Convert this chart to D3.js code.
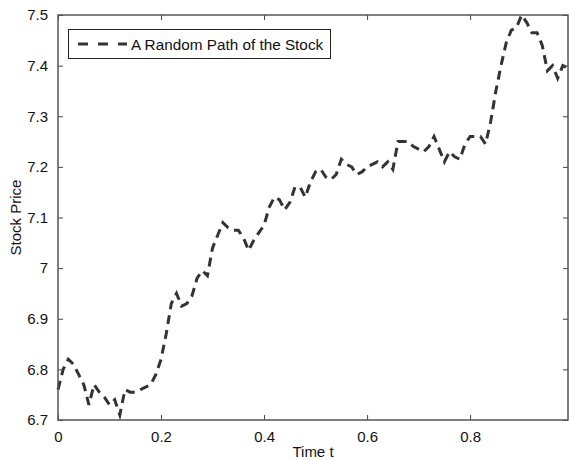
<!DOCTYPE html>
<html><head><meta charset="utf-8">
<script src="https://cdn.jsdelivr.net/npm/d3@7"></script>
<style>body{margin:0;background:#fff}svg{display:block}text{font-family:"Liberation Sans",Arial,sans-serif;fill:#111}</style>
</head><body>
<script>
const prices = [6.76,6.80,6.82,6.81,6.79,6.77,6.73,6.77,6.755,6.745,
6.73,6.74,6.71,6.76,6.755,6.755,6.76,6.765,6.77,6.79,
6.82,6.87,6.93,6.95,6.925,6.93,6.945,6.98,6.995,6.985,
7.04,7.065,7.09,7.08,7.075,7.075,7.06,7.035,7.055,7.07,
7.085,7.12,7.14,7.135,7.115,7.13,7.16,7.16,7.14,7.17,
7.19,7.195,7.18,7.175,7.185,7.215,7.205,7.20,7.185,7.19,
7.20,7.205,7.21,7.20,7.21,7.195,7.25,7.25,7.25,7.24,
7.235,7.23,7.24,7.26,7.235,7.21,7.23,7.22,7.215,7.245,
7.26,7.26,7.26,7.245,7.29,7.35,7.40,7.445,7.47,7.475,
7.50,7.485,7.465,7.465,7.44,7.39,7.40,7.375,7.40,7.395];
const times = prices.map((_, i) => +(i * 0.01).toFixed(2));
const xTicks = [0, 0.2, 0.4, 0.6, 0.8];
const yTicks = [6.7, 6.8, 6.9, 7, 7.1, 7.2, 7.3, 7.4, 7.5];
const legendLabel = "A Random Path of the Stock";

const W = 569, H = 460;
const m = {l: 58, r: 1, t: 15, b: 40};
const svg = d3.select("body").append("svg").attr("width", W).attr("height", H);
const x = d3.scaleLinear().domain([0, 0.99]).range([m.l, W - m.r]);
const y = d3.scaleLinear().domain([6.7, 7.5]).range([H - m.b, m.t]);

// line
svg.append("path").datum(prices)
  .attr("fill", "none").attr("stroke", "#333").attr("stroke-width", 3)
  .attr("stroke-dasharray", "9,6")
  .attr("d", d3.line().x((d, i) => x(times[i])).y(d => y(d)));

const tl = 5;
function styleAxis(g) {
  g.select(".domain").remove();
  g.selectAll(".tick line").attr("stroke", "#444");
  g.selectAll(".tick text").style("font-size", "15px").attr("fill", "#111");
}
// bottom & top
svg.append("g").attr("transform", `translate(0,${H - m.b})`)
  .call(d3.axisBottom(x).tickValues(xTicks).tickSizeInner(-tl).tickSizeOuter(0).tickPadding(11).tickFormat(d => d === 0 ? "0" : d3.format(".1f")(d)))
  .call(styleAxis);
svg.append("g").attr("transform", `translate(0,${m.t})`)
  .call(d3.axisTop(x).tickValues(xTicks).tickSizeInner(-tl).tickSizeOuter(0).tickFormat(""))
  .call(styleAxis);
svg.append("g").attr("transform", `translate(${m.l},0)`)
  .call(d3.axisLeft(y).tickValues(yTicks).tickSizeInner(-tl).tickSizeOuter(0).tickPadding(10).tickFormat(d => d === 7 ? "7" : d3.format(".1f")(d)))
  .call(styleAxis);
svg.append("g").attr("transform", `translate(${W - m.r},0)`)
  .call(d3.axisRight(y).tickValues(yTicks).tickSizeInner(-tl).tickSizeOuter(0).tickFormat(""))
  .call(styleAxis);

// box
svg.append("rect").attr("x", m.l).attr("y", m.t).attr("width", W - m.r - m.l).attr("height", H - m.b - m.t)
  .attr("fill", "none").attr("stroke", "#555").attr("stroke-width", 1.5);

// axis titles
svg.append("text").attr("x", (m.l + W - m.r) / 2).attr("y", 457).attr("text-anchor", "middle").style("font-size", "15px").text("Time t");
svg.append("text").attr("transform", `translate(21,${(m.t + H - m.b) / 2}) rotate(-90)`).attr("text-anchor", "middle").style("font-size", "15px").text("Stock Price");

// legend
const lg = svg.append("g");
lg.append("rect").attr("x", 68.5).attr("y", 29.5).attr("width", 262).attr("height", 29).attr("fill", "#fff").attr("stroke", "#222").attr("stroke-width", 1);
lg.append("line").attr("x1", 78).attr("x2", 127).attr("y1", 44).attr("y2", 44).attr("stroke", "#333").attr("stroke-width", 3).attr("stroke-dasharray", "10,10");
lg.append("text").attr("x", 131).attr("y", 49.5).style("font-size", "15.3px").text(legendLabel);
</script>
</body></html>
